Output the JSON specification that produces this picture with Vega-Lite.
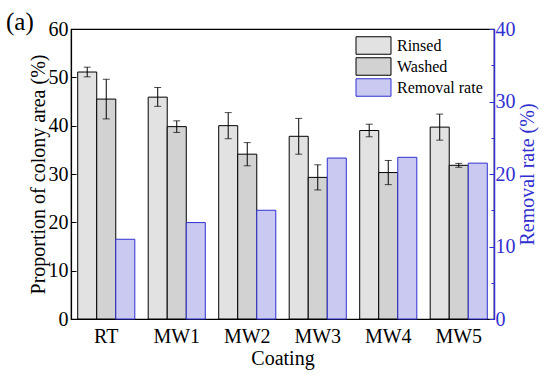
{
  "$schema": "https://vega.github.io/schema/vega-lite/v6.json",
  "width": 423,
  "height": 290,
  "autosize": {"type": "none"},
  "padding": {"left": 71, "top": 29, "right": 56, "bottom": 58},
  "background": "white",
  "config": {
    "font": "Liberation Serif, Times New Roman, serif",
    "view": {"stroke": "black", "strokeWidth": 1.2},
    "axis": {
      "labelFont": "Liberation Serif, Times New Roman, serif",
      "titleFont": "Liberation Serif, Times New Roman, serif",
      "labelFontSize": 20,
      "titleFontSize": 20,
      "titleFontWeight": "normal",
      "grid": false,
      "labelColor": "black",
      "titleColor": "black"
    },
    "legend": {"labelFont": "Liberation Serif, Times New Roman, serif"},
    "title": {"font": "Liberation Serif, Times New Roman, serif"}
  },
  "title": {
    "text": "(a)",
    "anchor": "start",
    "frame": "group",
    "fontSize": 25,
    "fontWeight": "normal",
    "dx": -65,
    "offset": -16
  },
  "data": {
    "values": [
      {"coating": "RT", "series": "Rinsed", "value": 51.1, "lo": 50.1, "hi": 52.1},
      {"coating": "RT", "series": "Washed", "value": 45.5, "lo": 41.4, "hi": 49.6},
      {"coating": "RT", "series": "Removal rate", "value": 11.0},
      {"coating": "MW1", "series": "Rinsed", "value": 45.9, "lo": 44.0, "hi": 47.9},
      {"coating": "MW1", "series": "Washed", "value": 39.8, "lo": 38.6, "hi": 41.0},
      {"coating": "MW1", "series": "Removal rate", "value": 13.3},
      {"coating": "MW2", "series": "Rinsed", "value": 40.0, "lo": 37.3, "hi": 42.7},
      {"coating": "MW2", "series": "Washed", "value": 34.1, "lo": 31.7, "hi": 36.5},
      {"coating": "MW2", "series": "Removal rate", "value": 15.0},
      {"coating": "MW3", "series": "Rinsed", "value": 37.8, "lo": 34.1, "hi": 41.5},
      {"coating": "MW3", "series": "Washed", "value": 29.3, "lo": 26.7, "hi": 31.9},
      {"coating": "MW3", "series": "Removal rate", "value": 22.2},
      {"coating": "MW4", "series": "Rinsed", "value": 39.0, "lo": 37.7, "hi": 40.3},
      {"coating": "MW4", "series": "Washed", "value": 30.3, "lo": 27.8, "hi": 32.8},
      {"coating": "MW4", "series": "Removal rate", "value": 22.3},
      {"coating": "MW5", "series": "Rinsed", "value": 39.7, "lo": 37.0, "hi": 42.4},
      {"coating": "MW5", "series": "Washed", "value": 31.8, "lo": 31.4, "hi": 32.2},
      {"coating": "MW5", "series": "Removal rate", "value": 21.5}
    ]
  },
  "encoding": {
    "x": {
      "field": "coating",
      "type": "nominal",
      "sort": ["RT", "MW1", "MW2", "MW3", "MW4", "MW5"],
      "scale": {"paddingInner": 0.19, "paddingOuter": 0.095},
      "axis": {
        "title": "Coating",
        "labelAngle": 0,
        "ticks": false,
        "domainColor": "black",
        "domainWidth": 1.2,
        "labelPadding": 7,
        "titlePadding": 2
      }
    },
    "xOffset": {
      "field": "series",
      "type": "nominal",
      "scale": {"domain": ["Rinsed", "Washed", "Removal rate"], "paddingInner": 0, "paddingOuter": 0}
    }
  },
  "layer": [
    {
      "transform": [{"filter": "datum.series !== 'Removal rate'"}],
      "layer": [
        {
          "mark": {"type": "bar", "strokeWidth": 1},
          "encoding": {
            "y": {
              "field": "value",
              "type": "quantitative",
              "scale": {"domain": [0, 60], "nice": false},
              "axis": {
                "title": "Proportion of colony area (%)",
                "values": [0, 5, 10, 15, 20, 25, 30, 35, 40, 45, 50, 55, 60],
                "labelExpr": "datum.value % 10 === 0 ? datum.label : ''",
                "tickSize": {"condition": {"test": "datum.value % 10 === 0", "value": -5}, "value": -3},
                "tickColor": "black",
                "domainColor": "black",
                "domainWidth": 1.2,
                "labelPadding": 8,
                "titlePadding": 0
              }
            },
            "fill": {
              "field": "series",
              "type": "nominal",
              "scale": {"domain": ["Rinsed", "Washed", "Removal rate"], "range": ["#e2e2e2", "#d2d2d2", "#c9c9f2"]},
              "legend": {
                "orient": "none",
                "legendX": 293,
                "legendY": 7,
                "title": null,
                "padding": 0,
                "symbolType": "M-2,-1H2V1H-2Z",
                "symbolSize": 306,
                "symbolStrokeWidth": 1,
                "labelFont": "Liberation Serif, Times New Roman, serif",
                "labelFontSize": 16,
                "labelColor": "black",
                "labelOffset": 14,
                "rowPadding": -5
              }
            },
            "stroke": {
              "field": "series",
              "type": "nominal",
              "scale": {"domain": ["Rinsed", "Washed", "Removal rate"], "range": ["black", "black", "#3030d0"]}
            }
          }
        },
        {
          "mark": {"type": "rule", "color": "black", "strokeWidth": 1},
          "encoding": {
            "y": {"field": "lo", "type": "quantitative"},
            "y2": {"field": "hi"}
          }
        },
        {
          "mark": {"type": "tick", "color": "black", "size": 7, "thickness": 1, "orient": "horizontal"},
          "encoding": {"y": {"field": "lo", "type": "quantitative"}}
        },
        {
          "mark": {"type": "tick", "color": "black", "size": 7, "thickness": 1, "orient": "horizontal"},
          "encoding": {"y": {"field": "hi", "type": "quantitative"}}
        }
      ]
    },
    {
      "transform": [{"filter": "datum.series === 'Removal rate'"}],
      "mark": {"type": "bar", "strokeWidth": 1},
      "encoding": {
        "y": {
          "field": "value",
          "type": "quantitative",
          "scale": {"domain": [0, 40], "nice": false},
          "axis": {
            "orient": "right",
            "title": "Removal rate (%)",
            "titleAngle": -90,
            "titleBaseline": "top",
            "values": [0, 5, 10, 15, 20, 25, 30, 35, 40],
            "labelExpr": "datum.value % 10 === 0 ? datum.label : ''",
            "tickSize": {"condition": {"test": "datum.value % 10 === 0", "value": -5}, "value": -3},
            "tickColor": "#3030d0",
            "domainColor": "#3030d0",
            "domainWidth": 1.5,
            "labelColor": "#3030d0",
            "titleColor": "#3030d0",
            "labelPadding": 6,
            "titlePadding": 2
          }
        },
        "fill": {
          "field": "series",
          "type": "nominal",
          "scale": {"domain": ["Rinsed", "Washed", "Removal rate"], "range": ["#e2e2e2", "#d2d2d2", "#c9c9f2"]}
        },
        "stroke": {
          "field": "series",
          "type": "nominal",
          "scale": {"domain": ["Rinsed", "Washed", "Removal rate"], "range": ["black", "black", "#3030d0"]}
        }
      }
    }
  ],
  "resolve": {"scale": {"y": "independent"}}
}
